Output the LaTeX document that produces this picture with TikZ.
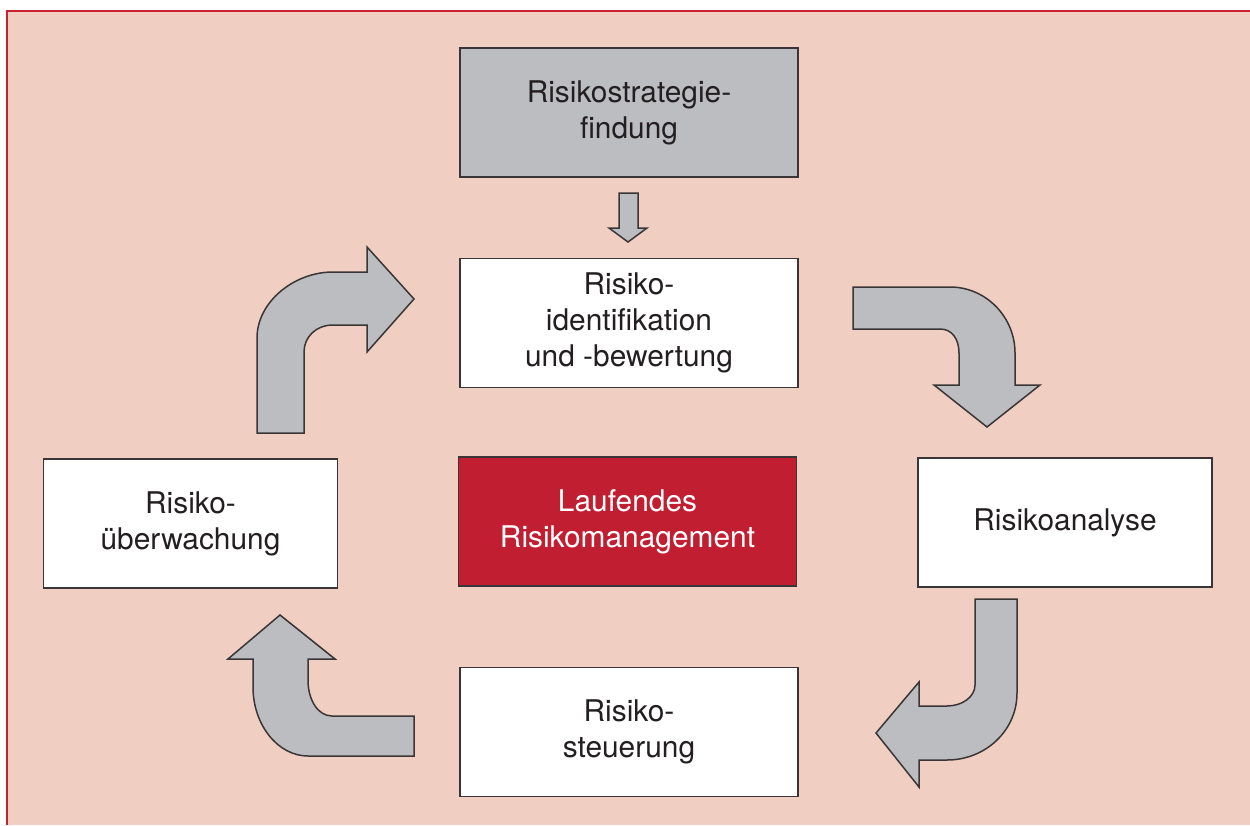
\documentclass[tikz,border=0pt]{standalone}
\usepackage{fontspec}
\setmainfont{TeX Gyre Heros}
\usepackage{xcolor}
\usetikzlibrary{positioning,calc}
\definecolor{bgpink}{HTML}{F0CEC2}
\definecolor{framered}{HTML}{C8202F}
\definecolor{boxgray}{HTML}{BCBDC0}
\definecolor{corered}{HTML}{C11F31}
\definecolor{inkgray}{HTML}{231F20}
\definecolor{edgegray}{HTML}{3A3536}

\begin{document}
\begin{tikzpicture}[
    x=0.2mm, y=-0.2mm,
    stage/.style={rectangle, draw=edgegray, line width=0.22mm, minimum width=67.6mm, minimum height=25.8mm,
        align=center, fill=white, text=inkgray, font=\fontsize{17}{20.4}\selectfont},
    sidestage/.style={stage, minimum width=58.8mm},
    blockarrow/.style={fill=boxgray, draw=edgegray, line width=0.3mm, line join=miter}
]
    \useasboundingbox (0,0) rectangle (1250,825);
    \fill[white] (0,0) rectangle (1250,825);

    % Background panel with red edge at top and left
    \fill[bgpink] (7,11) rectangle (1250,825);
    \draw[framered, line width=0.35mm] (7,825) -- (7,11) -- (1250,11);

    % Top: strategy
    \node[stage, fill=boxgray] (strat) at (629,112.5) {Risikostrategie-\\findung};

    % Cycle
    \node[stage] (ident) at (629,323) {Risiko-\\identifikation\\und -bewertung};
    \node[sidestage] (analyse) at (1065,522.5) {Risikoanalyse};
    \node[stage] (steer) at (629,732) {Risiko-\\steuerung};
    \node[sidestage] (watch) at (190.5,523.5) {Risiko-\\überwachung};

    % Centre
    \node[stage, fill=corered, text=white] (core) at (627.5,521.5) {Laufendes\\Risikomanagement};

    % Small arrow: strategy to identification
    \draw[blockarrow] (619,193) -- (638,193) -- (638,228) -- (647,228) -- (628,242)
        -- (609,228) -- (619,228) -- cycle;

    % Bent arrows round the cycle
    \draw[blockarrow] (853,287) -- (950,287) .. controls (986,287) and (1015,317) .. (1015,353)
        -- (1015,385) -- (1040,385) -- (987,427) -- (934,385) -- (959,385) -- (959,353)
        .. controls (959,339) and (952,329) .. (940,329) -- (853,329) -- cycle;
    \draw[blockarrow] (975,599) -- (1017,599) -- (1017,693) .. controls (1017,731) and (985,760) .. (947,760)
        -- (919,760) -- (919,787) -- (876,733) -- (919,682) -- (919,706) -- (947,706)
        .. controls (962,706) and (975,697) .. (975,685) -- cycle;
    \draw[blockarrow] (414,716) -- (414,756) -- (308,756) .. controls (278,756) and (253,725) .. (253,687)
        -- (253,659) -- (228,659) -- (280,615) -- (335,659) -- (308,659) -- (308,680)
        .. controls (308,700) and (318,716) .. (332,716) -- cycle;
    \draw[blockarrow] (257,433) -- (257,338) .. controls (257,302) and (294,272) .. (333,272)
        -- (367,272) -- (367,247) -- (414,299) -- (367,352) -- (367,325) -- (333,325)
        .. controls (316,325) and (304,337) .. (304,352) -- (304,433) -- cycle;

\end{tikzpicture}
\end{document}
